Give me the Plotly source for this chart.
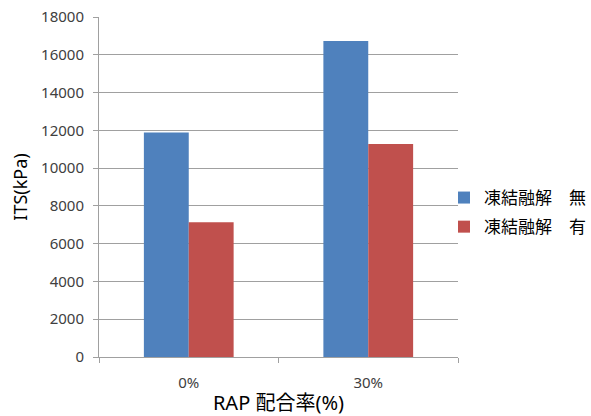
import plotly.graph_objects as go

categories = ["0%", "30%"]
series_names = ["凍結融解　無", "凍結融解　有"]
series_no = [11880, 16730]
series_yes = [7130, 11280]
colors = ["#4F81BD", "#C0504D"]
y_ticks = [0, 2000, 4000, 6000, 8000, 10000, 12000, 14000, 16000, 18000]
y_tick_labels = [str(v) for v in y_ticks]

FONT = "Noto Sans, Noto Sans CJK JP"

fig = go.Figure()
fig.add_trace(go.Bar(x=categories, y=series_no, name=series_names[0], legendgroup="a",
                     marker=dict(color=colors[0], line=dict(width=0))))
fig.add_trace(go.Bar(x=categories, y=series_yes, name=series_names[1], legendgroup="b",
                     marker=dict(color=colors[1], line=dict(width=0))))

fig.update_layout(
    width=591, height=416,
    margin=dict(l=99, r=133, t=17, b=59, autoexpand=False),
    paper_bgcolor="white", plot_bgcolor="white",
    barmode="group", bargap=0.5, bargroupgap=0,
    font=dict(family=FONT, color="#404040", size=15),
    legend=dict(x=0.961, y=0.425, xanchor="left", yanchor="middle",
                bgcolor="rgba(0,0,0,0)",
                font=dict(size=17, color="#000000"),
                traceorder="grouped", itemwidth=30, tracegroupgap=4),
    xaxis=dict(
        type="category", showgrid=False,
        showline=True, linecolor="#A0A0A0", linewidth=1,
        ticks="outside", tickson="boundaries", ticklen=5, tickcolor="#A0A0A0",
        tickfont=dict(size=15, color="#404040"),
        ticklabelstandoff=12,
        title=dict(text="RAP 配合率(%)", font=dict(size=20, color="#000000"), standoff=7),
    ),
    yaxis=dict(
        range=[0, 18000], tickvals=y_ticks, ticktext=y_tick_labels,
        showgrid=True, gridcolor="#A0A0A0", gridwidth=1,
        showline=True, linecolor="#A0A0A0", linewidth=1,
        ticks="outside", ticklen=5, tickcolor="#A0A0A0",
        tickfont=dict(size=15, color="#404040"),
        ticklabelstandoff=6,
        zeroline=False,
        title=dict(text="ITS(kPa)", font=dict(size=18, color="#000000"), standoff=8),
    ),
)

fig.write_html("out.html")
